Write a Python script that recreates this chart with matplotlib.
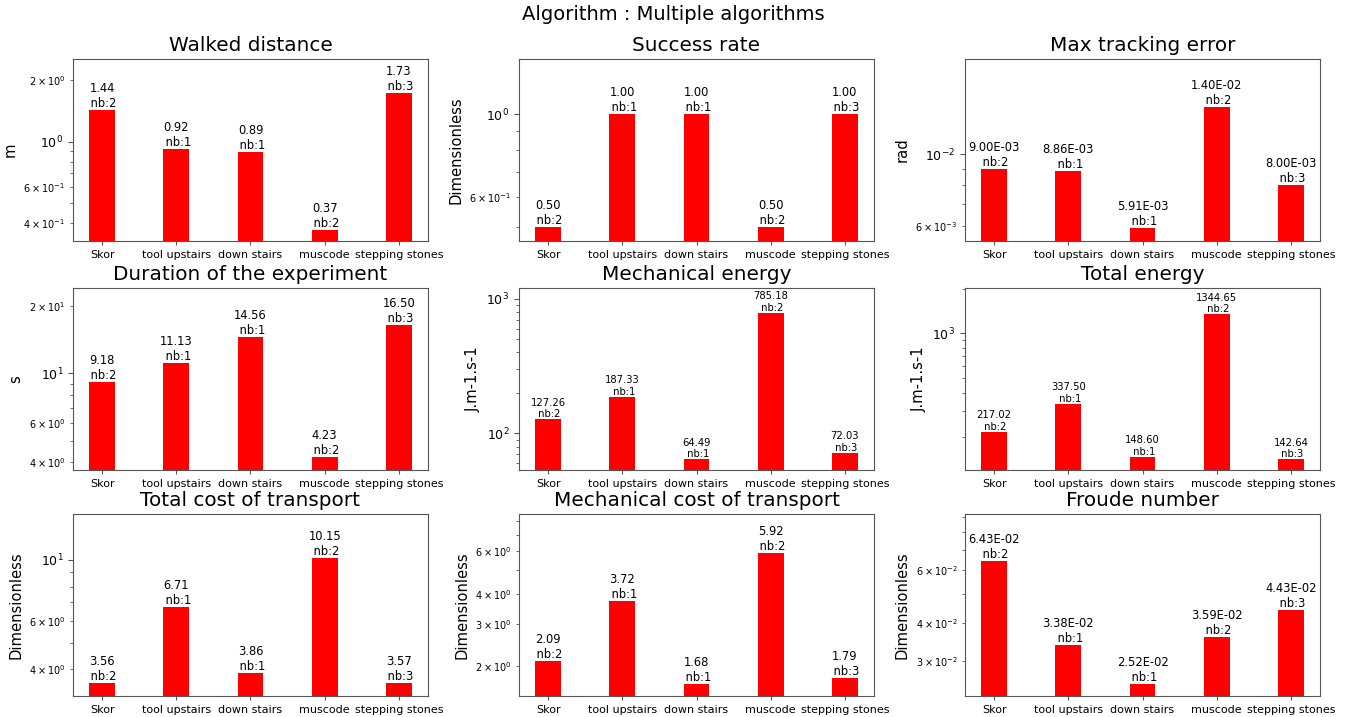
import matplotlib
matplotlib.use("Agg")
import matplotlib.pyplot as plt
import numpy as np

categories = ["Skor", "tool upstairs", "down stairs", "muscode", "stepping stones"]
counts = [2, 1, 1, 2, 3]

titles = ["Walked distance", "Success rate", "Max tracking error",
          "Duration of the experiment", "Mechanical energy", "Total energy",
          "Total cost of transport", "Mechanical cost of transport", "Froude number"]
ylabels = ["m", "Dimensionless", "rad",
           "s", "J.m-1.s-1", "J.m-1.s-1",
           "Dimensionless", "Dimensionless", "Dimensionless"]

walked_distance = [1.44, 0.92, 0.89, 0.37, 1.73]
success_rate = [0.50, 1.00, 1.00, 0.50, 1.00]
max_tracking_error = [9.00e-3, 8.86e-3, 5.91e-3, 1.40e-2, 8.00e-3]
duration = [9.18, 11.13, 14.56, 4.23, 16.50]
mechanical_energy = [127.26, 187.33, 64.49, 785.18, 72.03]
total_energy = [217.02, 337.50, 148.60, 1344.65, 142.64]
total_cot = [3.56, 6.71, 3.86, 10.15, 3.57]
mechanical_cot = [2.09, 3.72, 1.68, 5.92, 1.79]
froude = [6.43e-2, 3.38e-2, 2.52e-2, 3.59e-2, 4.43e-2]

series = [walked_distance, success_rate, max_tracking_error,
          duration, mechanical_energy, total_energy,
          total_cot, mechanical_cot, froude]
formats = ["%.2f", "%.2f", "%.2E", "%.2f", "%.2f", "%.2f", "%.2f", "%.2f", "%.2E"]
ylims = [(0.326, 2.55), (0.4585, 1.403), (0.005377, 0.01974),
         (3.693, 24.09), (53.6, 1200), (120.6, 2017),
         (3.193, 14.70), (1.499, 8.59), (0.02292, 0.0919)]
annot_sizes = [8.3, 8.3, 8.3, 8.3, 7.2, 7.2, 8.3, 8.3, 8.3]

W, H = 1346, 717
fig = plt.figure(figsize=(W / 100, H / 100), dpi=100)
fig.suptitle("Algorithm : Multiple algorithms", fontsize=14, y=1 - 5 / H, va="top")

lefts = [73, 519, 965]
tops = [59, 288, 514]
aw, ah = 355, 182
spine_color = "#555555"

x = np.arange(len(categories))
for i in range(9):
    r, c = divmod(i, 3)
    rect = [lefts[c] / W, 1 - (tops[r] + ah) / H, aw / W, ah / H]
    ax = fig.add_axes(rect)
    ax.set_yscale("log")
    vals = series[i]
    bars = ax.bar(x, vals, width=0.35, color="red")
    ax.set_ylim(*ylims[i])
    for b, v, n in zip(bars, vals, counts):
        ax.text(b.get_x() + b.get_width() / 2, v, (formats[i] % v) + "\n nb:%d" % n,
                ha="center", va="bottom", fontsize=annot_sizes[i])
    ax.set_xticks(x)
    ax.set_xticklabels(categories)
    ax.set_title(titles[i], fontsize=14.4)
    ax.set_ylabel(ylabels[i], fontsize=10.6)
    ax.tick_params(axis="x", labelsize=8, length=3, color=spine_color)
    ax.tick_params(axis="y", which="major", labelsize=9, length=3.5, color=spine_color)
    ax.tick_params(axis="y", which="minor", labelsize=7, length=2, color=spine_color)
    for s in ax.spines.values():
        s.set_color(spine_color)

fig.savefig("out.png", dpi=100)
